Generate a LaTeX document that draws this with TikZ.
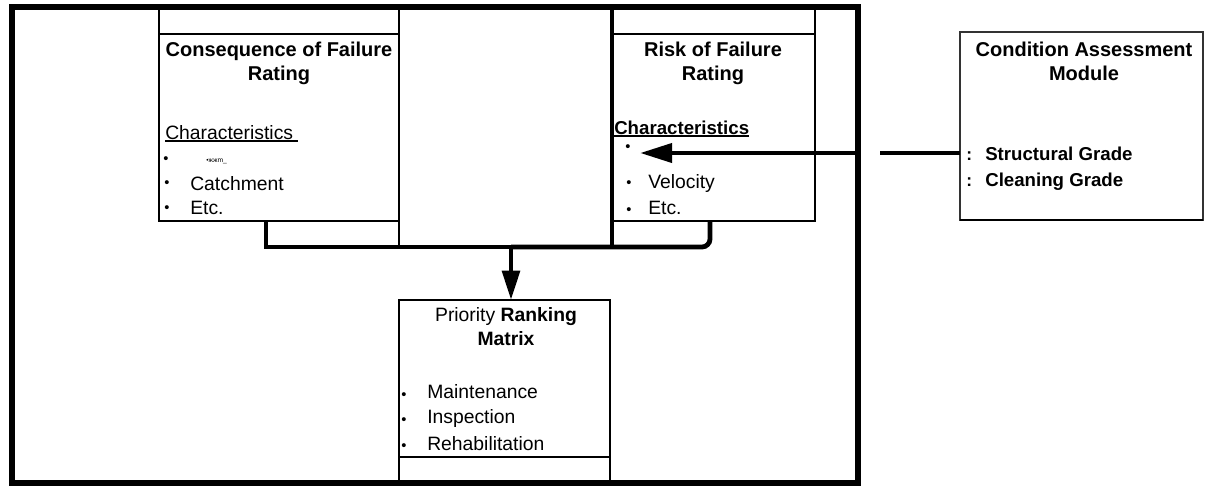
\documentclass[tikz,border=0pt]{standalone}
\usepackage{fontspec}
\setmainfont{Liberation Sans}
\usetikzlibrary{arrows.meta}
\newcommand\basefont{\fontsize{14.5}{18}\selectfont}
\newcommand\thickul[1]{\setbox0\hbox{#1}\rlap{\rule[-2.6pt]{\wd0}{1.7pt}}\box0}
\newcommand\bul{{\fontsize{11}{11}\selectfont\textbullet}}
\tikzset{
  frame/.style={line width=4pt},
  rule/.style={line width=2.2pt},
  midrule/.style={line width=3pt},
  thinrule/.style={line width=0.8pt, black!80},
  link/.style={line width=3.6pt},
  head/.style={font=\fontsize{15}{18}\selectfont\bfseries, align=center, inner sep=0pt, anchor=base},
  entry/.style={anchor=base west, inner sep=0pt},
  dotmark/.style={inner sep=0pt}
}
\begin{document}
\begin{tikzpicture}[x=0.75pt,y=-0.75pt,font=\basefont]
\useasboundingbox (0,0) rectangle (1208,486);
% outer frame
\draw[frame] (12,7) rectangle (858,483);
% consequence of failure box
\draw[rule] (159,7) |- (400,221);
\draw[rule] (159,34) -- (399,34);
\draw[rule] (399,7) -- (399,247);
% risk of failure box
\draw[midrule] (612,7) -- (612,247);
\draw[rule] (612,34) -- (815,34);
\draw[rule] (612,221) -| (815,7);
% priority ranking box
\draw[rule] (399,483) |- (610,300) -- (610,483);
\draw[rule] (399,457) -- (610,457);
% condition assessment box
\draw[thinrule] (960,32) rectangle (1203,220);
\draw[rule] (960,220) -- (1203,220);

% texts
\node[head] (cofHead) at (279,80) {Consequence of Failure\\Rating};
\node[entry] (cofChar) at (165,139) {\thickul{Characteristics\ }};
\node[dotmark] (cofDotA) at (166,160) {\bul};
\node[entry, font=\fontsize{5}{5}\selectfont] (cofA) at (206,162) {\textbullet жжm\_};
\node[dotmark] (cofDotB) at (167,184) {\bul};
\node[entry] (cofB) at (190,190) {Catchment};
\node[dotmark] (cofDotC) at (167,209) {\bul};
\node[entry] (cofC) at (190,214) {Etc.};

\node[head] (rofHead) at (713,80) {Risk of Failure\\Rating};
\node[entry, font=\fontsize{14}{18}\selectfont\bfseries] (rofChar) at (614,134) {\thickul{Characteristics}};
\node[dotmark] (rofDotA) at (628,148) {\bul};
\node[dotmark] (rofDotB) at (629,184) {\bul};
\node[entry] (rofB) at (648,188) {Velocity};
\node[dotmark] (rofDotC) at (629,211) {\bul};
\node[entry] (rofC) at (648,214) {Etc.};

\node[anchor=base, inner sep=0pt, align=center] (prmHead) at (506,345) {Priority \textbf{Ranking}\\\textbf{Matrix}};
\node[dotmark] (prmDotA) at (404,396) {\bul};
\node[entry] (prmA) at (427,398) {Maintenance};
\node[dotmark] (prmDotB) at (404,421) {\bul};
\node[entry] (prmB) at (427,423) {Inspection};
\node[dotmark] (prmDotC) at (404,447) {\bul};
\node[entry] (prmC) at (427,450) {Rehabilitation};

\node[head] (camHead) at (1084,80) {Condition Assessment\\Module};
\node[entry, font=\fontsize{13}{16}\selectfont\bfseries] (camDots) at (966,160) {:};
\node[entry, font=\fontsize{13}{16}\selectfont\bfseries] (camDots2) at (966,186) {:};
\node[entry, font=\fontsize{14}{16}\selectfont\bfseries] (camA) at (985,160) {Structural Grade};
\node[entry, font=\fontsize{14}{16}\selectfont\bfseries] (camB) at (985,186) {Cleaning Grade};

% connectors
\coordinate (cofFoot) at (266,221);
\coordinate (rofFoot) at (710,221);
\coordinate (joinMid) at (511,247);
\coordinate (prmTop) at (511,300);
\coordinate (camIn) at (960,153);
\coordinate (gapR) at (880,153);
\coordinate (frameR) at (858,153);
\coordinate (rofIn) at (640,153);
\draw[link] (cofFoot) |- (joinMid);
\draw[link, rounded corners=6pt] (joinMid) -| (rofFoot);
\draw[link, -{Triangle[length=22pt,width=13pt]}] (joinMid) -- (prmTop);
\draw[link, -{Triangle[length=24pt,width=14pt]}] (frameR) -- (rofIn);
\draw[link] (camIn) -- (gapR);
\end{tikzpicture}
\end{document}
